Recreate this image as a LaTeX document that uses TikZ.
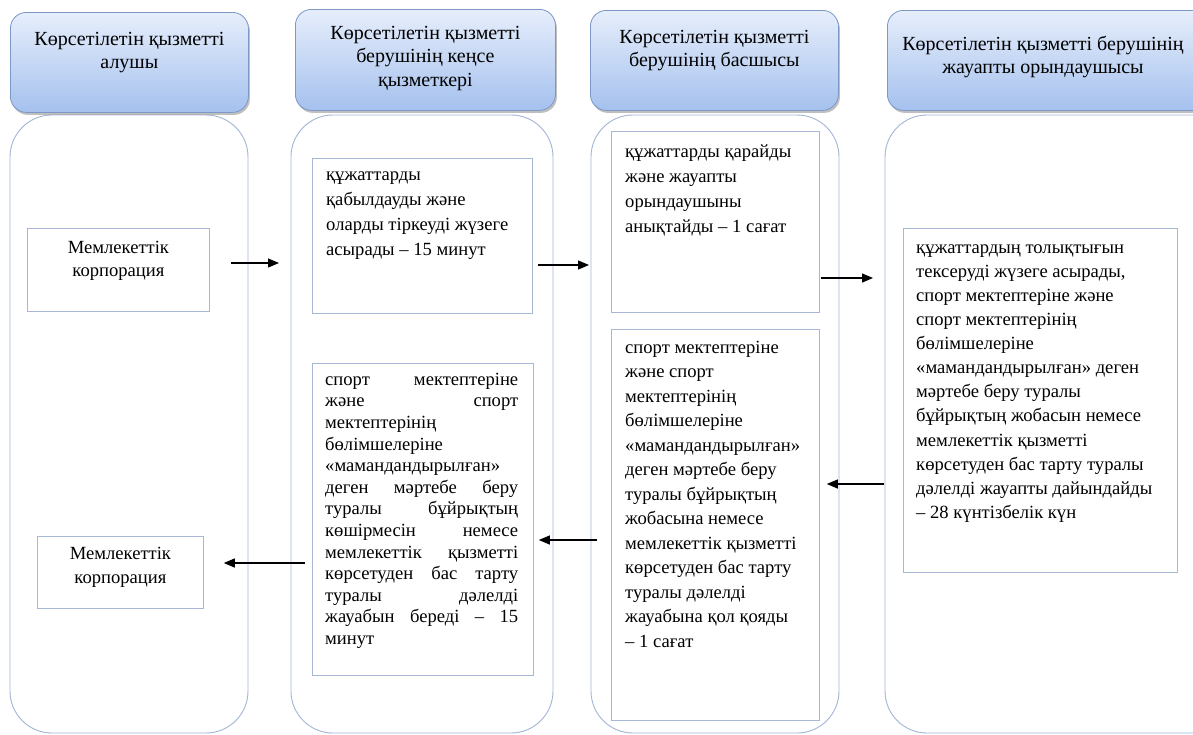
\documentclass[tikz,border=0pt]{standalone}
\usepackage{fontspec}
\setmainfont{Liberation Serif}
\usetikzlibrary{arrows.meta,shadows,calc}
\definecolor{lanec}{HTML}{A3B5D6}
\definecolor{boxc}{HTML}{A6B8D4}
\definecolor{hdrc}{HTML}{7C98C6}
\definecolor{htop}{HTML}{E6EEFB}
\definecolor{hbot}{HTML}{A5C1EE}
\newcommand{\fl}{\rule{0pt}{18pt}}
\tikzset{
 lane/.style={draw=lanec, line width=0.9pt, rounded corners=42pt, fill=white},
 hdr/.style={draw=hdrc, line width=0.8pt, rounded corners=16pt, top color=htop, bottom color=hbot,
   anchor=north west, inner sep=0pt,
   drop shadow={shadow xshift=1.5pt, shadow yshift=-2.5pt, fill=black!45, opacity=0.55}},
 stepbox/.style={draw=boxc, line width=0.8pt, fill=white, anchor=north west, inner sep=0pt},
 txt/.style={font=\fontsize{18.6}{24}\selectfont, inner sep=0pt, align=left, anchor=north west},
 ctxt/.style={font=\fontsize{18.6}{23}\selectfont, inner sep=0pt, align=center, anchor=north},
 htxt/.style={font=\fontsize{20}{23.5}\selectfont, inner sep=0pt, align=center, anchor=north},
 arr/.style={-{Triangle[length=11pt,width=9pt]}, line width=1.2pt, black},
}
\begin{document}
\begin{tikzpicture}[x=1pt,y=-1pt]
\clip (0,0) rectangle (1193,734);
\fill[white] (0,0) rectangle (1193,734);
% lanes
\draw[lane] (10,115) rectangle (248,733);
\draw[lane] (291,115) rectangle (553,733);
\draw[lane] (591,115) rectangle (839,733);
\draw[lane] (885,115) rectangle (1240,733);
% headers
\node[hdr, minimum width=238, minimum height=100] (h1) at (10,12) {};
\node[hdr, minimum width=260, minimum height=101] (h2) at (295,9) {};
\node[hdr, minimum width=248, minimum height=100] (h3) at (590,10) {};
\node[hdr, minimum width=330, minimum height=100] (h4) at (887,10) {};
\node[htxt] (t1) at ($(h1.north)+(0,15)$) {\fl Көрсетілетін қызметті\\алушы};
\node[htxt] (t2) at ($(h2.north)+(0,12)$) {\fl Көрсетілетін қызметті\\берушінің кеңсе\\қызметкері};
\node[htxt] (t3) at ($(h3.north)+(0,15)$) {\fl Көрсетілетін қызметті\\берушінің басшысы};
\node[htxt] (t4) at ($(h4.north west)+(156,22)$) {\fl Көрсетілетін қызметті берушінің\\жауапты орындаушысы};
% boxes
\node[stepbox, minimum width=182, minimum height=83] (a) at (27,228) {};
\node[ctxt] (at) at ($(a.north)+(0,7)$) {\fl Мемлекеттік\\корпорация};
\node[stepbox, minimum width=166, minimum height=72] (b) at (37,536) {};
\node[ctxt, font=\fontsize{18.6}{24}\selectfont] (bt) at ($(b.north)+(0,5)$) {\fl Мемлекеттік\\корпорация};
\node[stepbox, minimum width=220, minimum height=155] (c) at (312,158) {};
\node[txt, font=\fontsize{18.6}{25}\selectfont] (ct) at ($(c.north west)+(14,4)$) {\fl құжаттарды\\қабылдауды және\\оларды тіркеуді жүзеге\\асырады – 15 минут};
\node[stepbox, minimum width=221, minimum height=312] (d) at (312,363) {};
\node[txt, font=\fontsize{18.6}{21.6}\selectfont] (dt) at ($(d.north west)+(13,4)$) {%
\fl\hbox to 193pt{спорт\hfill мектептеріне}\\
\hbox to 193pt{және\hfill спорт}\\
мектептерінің\\
бөлімшелеріне\\
«мамандандырылған»\\
\hbox to 193pt{деген\hfill мәртебе\hfill беру}\\
\hbox to 193pt{туралы\hfill бұйрықтың}\\
\hbox to 193pt{көшірмесін\hfill немесе}\\
\hbox to 193pt{мемлекеттік\hfill қызметті}\\
\hbox to 193pt{көрсетуден\hfill бас\hfill тарту}\\
\hbox to 193pt{туралы\hfill дәлелді}\\
\hbox to 193pt{жауабын\hfill береді\hfill –\hfill 15}\\
минут};
\node[stepbox, minimum width=208, minimum height=181] (e) at (611,131) {};
\node[txt, font=\fontsize{18.6}{25}\selectfont] (et) at ($(e.north west)+(14,8)$) {\fl құжаттарды қарайды\\және жауапты\\орындаушыны\\анықтайды – 1 сағат};
\node[stepbox, minimum width=208, minimum height=391] (f) at (611,329) {};
\node[txt, font=\fontsize{18.6}{24.5}\selectfont] (ft) at ($(f.north west)+(14,6)$) {\fl спорт мектептеріне\\және спорт\\мектептерінің\\бөлімшелеріне\\«мамандандырылған»\\деген мәртебе беру\\туралы бұйрықтың\\жобасына немесе\\мемлекеттік қызметті\\көрсетуден бас тарту\\туралы дәлелді\\жауабына қол қояды\\– 1 сағат};
\node[stepbox, minimum width=274, minimum height=344] (g) at (903,228) {};
\node[txt, font=\fontsize{18.6}{24.1}\selectfont] (gt) at ($(g.north west)+(13,7)$) {\fl құжаттардың толықтығын\\тексеруді жүзеге асырады,\\спорт мектептеріне және\\спорт мектептерінің\\бөлімшелеріне\\«мамандандырылған» деген\\мәртебе беру туралы\\бұйрықтың жобасын немесе\\мемлекеттік қызметті\\көрсетуден бас тарту туралы\\дәлелді жауапты дайындайды\\– 28 күнтізбелік күн};
% arrows
\draw[arr] ($(a.north east)+(21,35)$) -- ($(c.north west)+(-33,105)$);
\draw[arr] ($(c.north east)+(5,107)$) -- ($(e.north west)+(-22,134)$);
\draw[arr] ($(e.north east)+(1,147)$) -- ($(g.north west)+(-30,50)$);
\draw[arr] ($(g.north west)+(-19,256)$) -- ($(f.north east)+(7,155)$);
\draw[arr] ($(f.north west)+(-14,211)$) -- ($(d.north east)+(5,177)$);
\draw[arr] ($(d.north west)+(-7,200)$) -- ($(b.north east)+(20,27)$);
\end{tikzpicture}
\end{document}
